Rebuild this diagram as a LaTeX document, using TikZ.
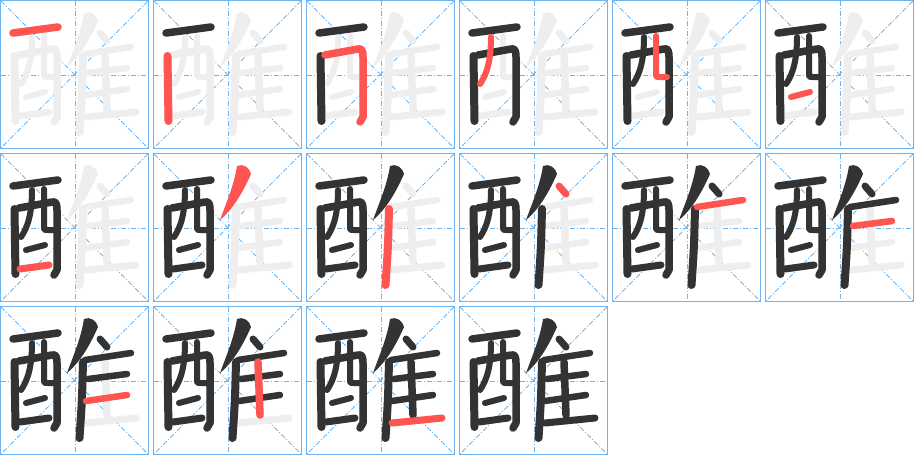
\documentclass[tikz,border=0pt]{standalone}
\usepackage{tikz}
\usetikzlibrary{positioning}
\definecolor{griglia}{RGB}{110,180,240}
\definecolor{inchiostro}{RGB}{51,51,51}
\definecolor{rosso}{RGB}{255,84,80}
\definecolor{grigio}{RGB}{238,238,238}
\tikzset{
  bordo/.style={draw=griglia, line width=1.3},
  guida/.style={draw=griglia, line width=0.9, dash pattern=on 5 off 2 on 1 off 2},
  fantasma/.style={color=grigio},
  fatto/.style={color=inchiostro},
  attuale/.style={color=rosso},
  pennello/.style={line cap=round, line join=round},
  pics/tratto/.style={code={%
    \ifcase#1
    \or %1 orizzontale in alto
      \draw[pennello, line width=7.5] (13,33) -- (58,27);
    \or %2 verticale sinistra
      \draw[pennello, line width=8] (14.5,56) .. controls (15,90) .. (15.5,121);
    \or %3 orizzontale-verticale
      \draw[pennello, line width=7.5] (19,55) -- (52,49) .. controls (56,48) and (57,51) .. (57,57) -- (57,117) -- (54,122);
    \or %4
      \draw[pennello, line width=6] (32,37) .. controls (32,60) and (28,74) .. (21,84);
    \or %5
      \draw[pennello, line width=6] (44,36) -- (44,73) .. controls (44,77) .. (48,77) -- (55,77);
    \or %6
      \draw[pennello, line width=6] (26,97) -- (45,92);
    \or %7
      \draw[pennello, line width=7] (20,116) -- (49,112);
    \or %8 obliqua lunga
      \fill (84,13) .. controls (90,10) and (97,15) .. (98,21) .. controls (89,41) and (80,56) .. (67,67) .. controls (74,48) and (81,32) .. (84,13) -- cycle;
    \or %9
      \draw[pennello, line width=8] (83,56) .. controls (82,95) .. (79.5,132);
    \or %10 punto
      \draw[pennello, line width=7] (100,33) -- (107,41);
    \or %11
      \draw[pennello, line width=6.5] (85,54) -- (131,47);
    \or %12
      \draw[pennello, line width=6.5] (88,73) -- (127,68);
    \or %13
      \draw[pennello, line width=6.5] (86,95) -- (127,89);
    \or %14
      \draw[pennello, line width=7.5] (105,56) -- (107,109);
    \or %15
      \draw[pennello, line width=7] (86,117) -- (136,112);
    \fi}}
}
\begin{document}
\begin{tikzpicture}[x=1pt, y=-1pt]
  \useasboundingbox (0,0) rectangle (915,456);
  \foreach \k in {1,...,16}{
    \pgfmathtruncatemacro\col{mod(\k-1,6)}
    \pgfmathtruncatemacro\riga{div(\k-1,6)}
    \begin{scope}[shift={(153*\col,153*\riga)}]
      %griglia
      \draw[bordo] (0.7,0.7) rectangle (148.8,148.8);
      \draw[guida] (1,1) -- (148,148);
      \draw[guida] (148,1) -- (1,148);
      \draw[guida] (75,1) -- (75,148);
      \draw[guida] (1,75) -- (148,75);
      %tratti
      \ifnum\k<16
        \foreach \s in {1,...,15} \pic[fantasma] {tratto=\s};
      \fi
      \foreach \s in {1,...,15}{
        \ifnum\s<\k \pic[fatto] {tratto=\s};\fi
      }
      \ifnum\k<16 \pic[attuale] {tratto=\k};\fi
    \end{scope}
  }
\end{tikzpicture}
\end{document}
